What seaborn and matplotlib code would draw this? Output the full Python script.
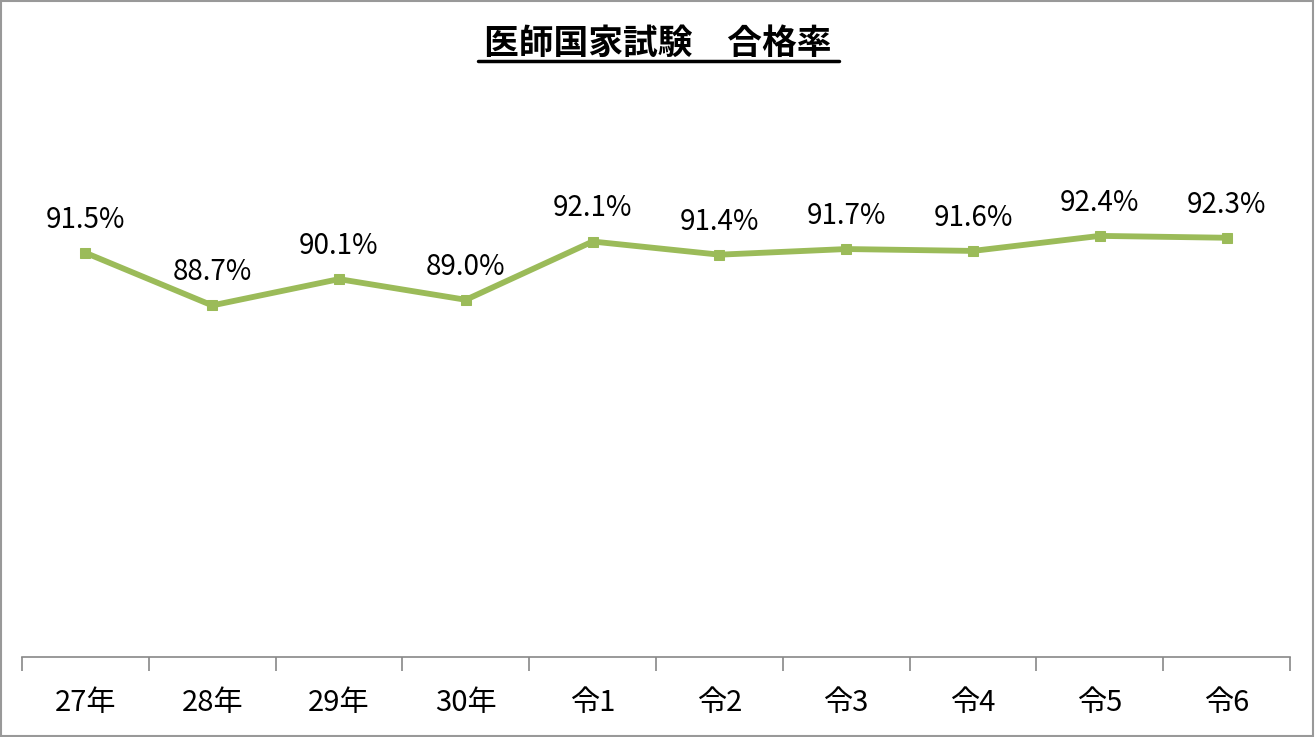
import matplotlib
matplotlib.use('Agg')
import matplotlib.pyplot as plt
import seaborn as sns
import pandas as pd
from matplotlib.lines import Line2D
from matplotlib.patches import Rectangle

# data
years = ['27年', '28年', '29年', '30年', '令1', '令2', '令3', '令4', '令5', '令6']
pass_rate = [91.5, 88.7, 90.1, 89.0, 92.1, 91.4, 91.7, 91.6, 92.4, 92.3]
title = '医師国家試験　合格率'

sns.set_theme(style='white')
plt.rcParams['font.family'] = ['Noto Sans CJK JP', 'DejaVu Sans']

df = pd.DataFrame({'x': range(len(years)), 'rate': pass_rate})
green = '#9BBB59'

fig = plt.figure(figsize=(13.16, 7.37), dpi=100)
ax = fig.add_axes([22 / 1316, 1 - 657 / 737, 1268 / 1316, (657 - 93) / 737])

sns.lineplot(data=df, x='x', y='rate', ax=ax, color=green, linewidth=4.2,
             marker='s', markersize=7, markeredgecolor=green)

for xi, v in zip(df['x'], df['rate']):
    ax.annotate(f'{v:.1f}%', (xi, v), xytext=(0, 13), textcoords='offset points',
                ha='center', va='bottom', fontsize=20, color='black')

ax.set_xlim(-0.5, len(years) - 0.5)
ax.set_ylim(70, 100)
ax.set_yticks([])
ax.set_xticks(range(len(years)))
ax.set_xticklabels(years, fontsize=21)
ax.set_xlabel('')
ax.set_ylabel('')
for s in ['top', 'right', 'left']:
    ax.spines[s].set_visible(False)
ax.spines['bottom'].set_color('#888888')
ax.spines['bottom'].set_linewidth(1.2)

# category-boundary tick marks (Excel style)
ax.set_xticks([i - 0.5 for i in range(len(years) + 1)], minor=True)
ax.tick_params(axis='x', which='minor', length=10, width=1.2, color='#888888', bottom=True)
ax.tick_params(axis='x', which='major', length=0, pad=22, colors='black')

# title with underline
fig.text(0.5, 1 - 43 / 737, title, ha='center', va='center', fontsize=25,
         fontweight='bold', color='black')
fig.add_artist(Line2D([478 / 1316, 839 / 1316], [1 - 61 / 737, 1 - 61 / 737],
                      color='black', linewidth=2.5, transform=fig.transFigure))

# outer frame
fig.add_artist(Rectangle((0.001, 0.001), 0.997, 0.997, transform=fig.transFigure,
                         fill=False, edgecolor='#999999', linewidth=1.5))

fig.savefig('out.png', dpi=100)
